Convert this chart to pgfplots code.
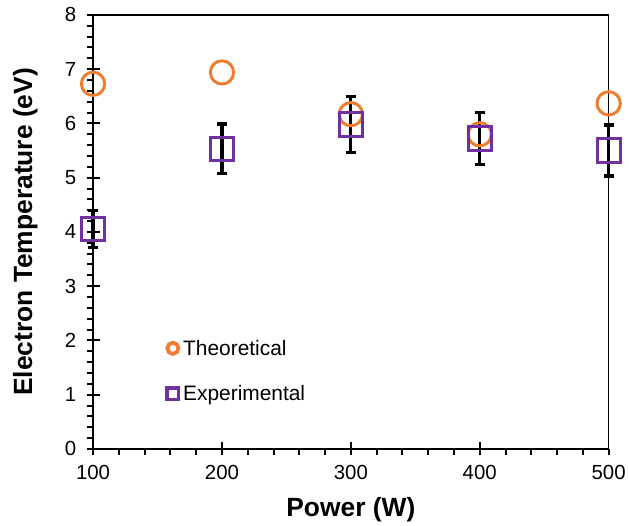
\documentclass[border=0pt]{standalone}
\usepackage{pgfplots}
\pgfplotsset{compat=1.18}
\usepackage{fontspec}
\setmainfont{Liberation Sans}
\definecolor{theo}{HTML}{ED7D31}
\definecolor{expc}{HTML}{7030A0}
\begin{document}
\begin{tikzpicture}
\begin{axis}[name=ax,
 scale only axis, width=518pt, height=436pt,
 xmin=100, xmax=500, ymin=0, ymax=8,
 xtick={100,200,...,500}, ytick={0,...,8},
 minor x tick num=4, minor y tick num=4,
 xtick pos=bottom, ytick pos=left,
 tick align=outside,
 major tick length=6.5pt, minor tick length=6pt,
 tick style={black, line width=2pt},
 extra x ticks={200,300,400}, extra y ticks={1,...,7},
 extra x tick labels={}, extra y tick labels={},
 extra tick style={tick align=inside, major tick length=6.5pt, minor tick num=0},
 axis line style={black, line width=1.4pt},
 ticklabel style={font=\fontsize{20.5}{24}\selectfont},
 /pgf/number format/assume math mode=true,
 xticklabel style={yshift=-6pt},
 yticklabel style={xshift=-7pt},
 xlabel={Power (W)}, ylabel={Electron Temperature (eV)},
 label style={font=\fontsize{26.5}{30}\selectfont\bfseries},
 xlabel style={yshift=-5pt},
 ylabel style={yshift=14pt},
 clip=false,
 legend style={draw=none, fill=none, at={(0.140,0.256)}, anchor=north west,
   font=\fontsize{21}{24}\selectfont, row sep=25pt, inner sep=0pt, nodes={inner ysep=2pt, inner xsep=2.8pt}},
 legend cell align=left,
]
\draw[line width=2.8pt, black] (rel axis cs:0,1) -- (rel axis cs:0,0) -- (rel axis cs:1,0);
\addplot[only marks, mark=o, mark size=11.7pt, mark options={draw=theo, line width=3pt},
 legend image code/.code={\draw[theo, line width=3.8pt] (0pt,0pt) circle (5.6pt);}]
 coordinates {(100,6.73) (200,6.94) (300,6.17) (400,5.80) (500,6.37)};
\addlegendentry{Theoretical}
\addplot[only marks, mark=square, mark size=11.7pt,
 mark options={draw=expc, line width=3pt, fill=white, fill opacity=0.6},
 legend image code/.code={\draw[expc, line width=3.8pt] (-5.6pt,-5.6pt) rectangle (5.6pt,5.6pt);},
 error bars/.cd, y dir=both, y explicit,
 error bar style={line width=3.2pt, black},
 error mark options={rotate=90, mark size=5pt, line width=3.2pt, black}]
 coordinates {(100,4.06) +- (0,0.34) (200,5.53) +- (0,0.46) (300,5.98) +- (0,0.51) (400,5.72) +- (0,0.48) (500,5.50) +- (0,0.47)};
\addlegendentry{Experimental}
\end{axis}
\path ([xshift=-93.5pt,yshift=-72pt]ax.south west) rectangle ([xshift=17.5pt,yshift=15pt]ax.north east);
\end{tikzpicture}
\end{document}
